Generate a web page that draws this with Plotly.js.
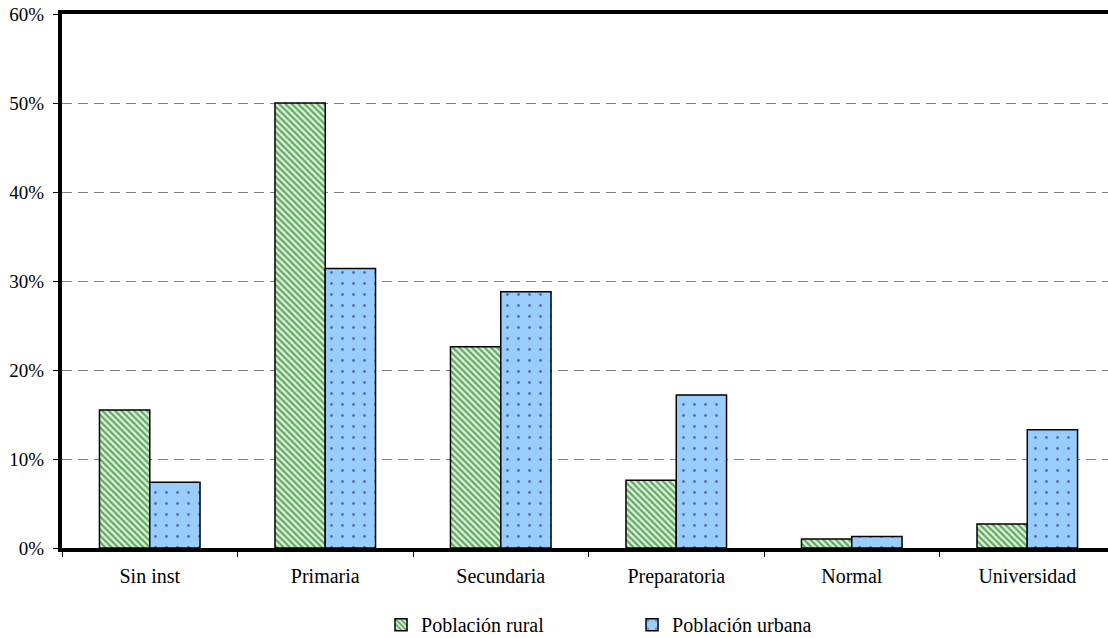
<!DOCTYPE html>
<html>
<head>
<meta charset="utf-8">
<script src="https://cdn.plot.ly/plotly-3.0.1.min.js"></script>
<style>
  html, body { margin: 0; padding: 0; background: #ffffff; }
  #chart { width: 1108px; height: 638px; }
</style>
</head>
<body>
<div id="chart"></div>
<script>
const categories = ["Sin inst", "Primaria", "Secundaria", "Preparatoria", "Normal", "Universidad"];
const ruralName = "Población rural";
const urbanName = "Población urbana";
const ruralValues = [0.155, 0.500, 0.226, 0.076, 0.010, 0.027];
const urbanValues = [0.074, 0.314, 0.288, 0.172, 0.013, 0.133];
const yTickValues = [0, 0.1, 0.2, 0.3, 0.4, 0.5, 0.6];
const yTickLabels = ["0%", "10%", "20%", "30%", "40%", "50%", "60%"];

const serif = "'Liberation Serif', 'Times New Roman', serif";

const traces = [
  {
    type: "bar",
    name: ruralName,
    x: categories,
    y: ruralValues,
    marker: {
      color: "#ccffcc",
      line: { color: "#000000", width: 1.5 },
      pattern: { shape: "\\", fgcolor: "#1e3a1e", bgcolor: "#ccffcc", size: 4.5, solidity: 0.5, fillmode: "overlay" }
    },
    hoverinfo: "x+y"
  },
  {
    type: "bar",
    name: urbanName,
    x: categories,
    y: urbanValues,
    marker: {
      color: "#99ccff",
      line: { color: "#000000", width: 1.5 },
      pattern: { shape: ".", fgcolor: "#0d1a33", bgcolor: "#99ccff", size: 11, solidity: 0.05, fillmode: "overlay" }
    },
    hoverinfo: "x+y"
  }
];

const layout = {
  width: 1108,
  height: 638,
  margin: { l: 62, r: 0, t: 14, b: 90, autoexpand: false },
  paper_bgcolor: "#ffffff",
  plot_bgcolor: "#ffffff",
  barmode: "group",
  bargap: 0.427,
  bargroupgap: 0,
  showlegend: true,
  font: { family: serif, color: "#000000", size: 19 },
  xaxis: {
    type: "category",
    range: [-0.5, 5.46],
    showline: true,
    linecolor: "#000000",
    linewidth: 4,
    mirror: true,
    ticks: "outside",
    tickson: "boundaries",
    ticklen: 5,
    tickcolor: "#000000",
    tickwidth: 1,
    ticklabelstandoff: 7,
    showgrid: false,
    zeroline: false,
    tickfont: { family: serif, size: 20, color: "#000000" },
    fixedrange: true
  },
  yaxis: {
    range: [0, 0.6],
    tickvals: yTickValues,
    ticktext: yTickLabels,
    showline: true,
    linecolor: "#000000",
    linewidth: 4,
    ticks: "outside",
    ticklen: 5,
    tickcolor: "#000000",
    tickwidth: 1,
    ticklabelstandoff: 5,
    showgrid: true,
    gridcolor: "#808080",
    gridwidth: 1,
    griddash: "10px,6px",
    zeroline: false,
    tickfont: { family: serif, size: 19, color: "#000000" },
    fixedrange: true
  },
  legend: {
    orientation: "h",
    x: 0.305,
    xanchor: "left",
    y: -0.107,
    yanchor: "top",
    entrywidth: 206,
    font: { family: serif, size: 20, color: "#000000" },
    bgcolor: "rgba(0,0,0,0)"
  }
};

Plotly.newPlot("chart", traces, layout, { displayModeBar: false, staticPlot: true });
</script>
</body>
</html>
